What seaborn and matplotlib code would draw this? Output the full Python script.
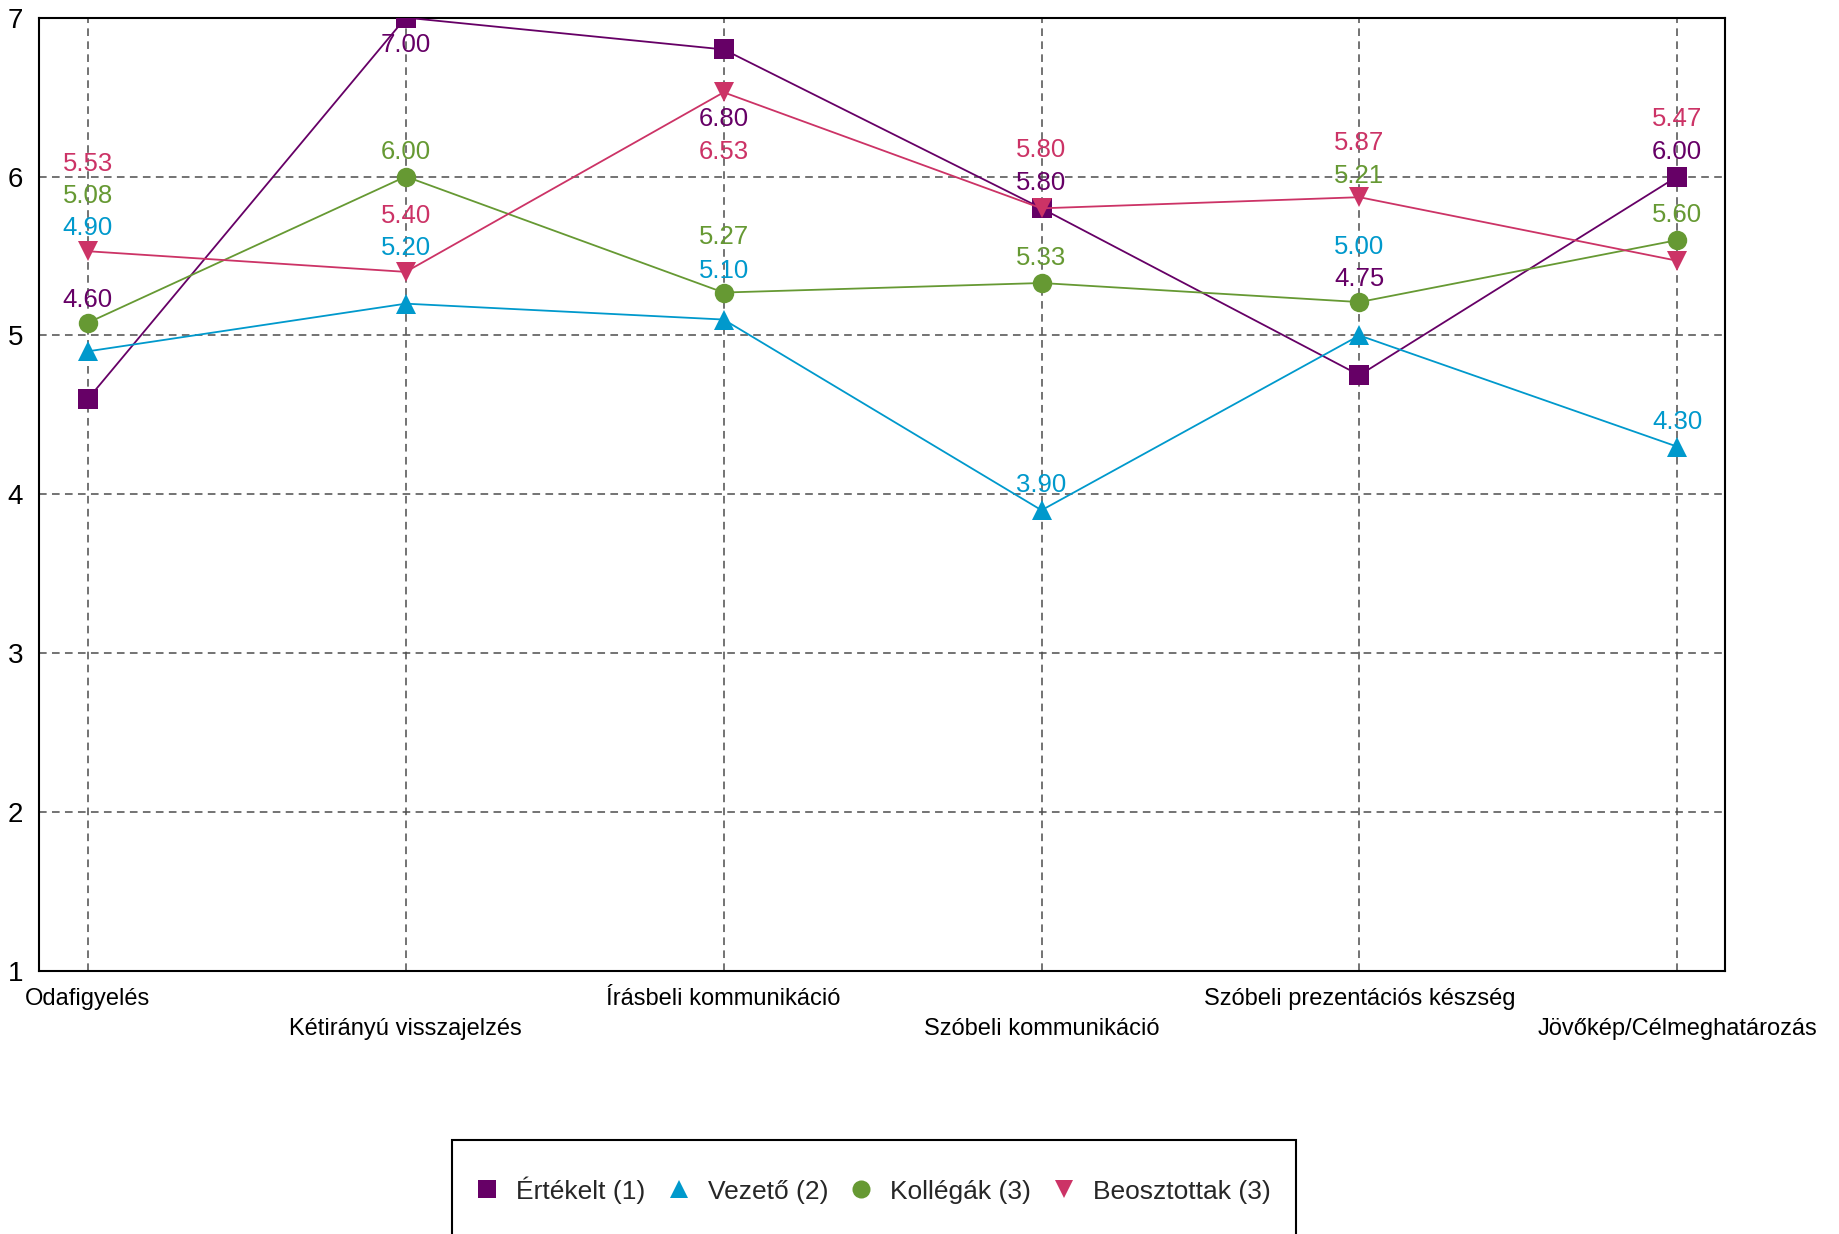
import numpy as np
import pandas as pd
import matplotlib
matplotlib.use("Agg")
import matplotlib.pyplot as plt
from matplotlib.lines import Line2D
from matplotlib.patches import Rectangle
import seaborn as sns

# Competency categories along the x axis
categories = [
    "Odafigyelés",
    "Kétirányú visszajelzés",
    "Írásbeli kommunikáció",
    "Szóbeli kommunikáció",
    "Szóbeli prezentációs készség",
    "Jövőkép/Célmeghatározás",
]

# Average scores by rater group
ertekelt = [4.60, 7.00, 6.80, 5.80, 4.75, 6.00]
vezeto = [4.90, 5.20, 5.10, 3.90, 5.00, 4.30]
kollegak = [5.08, 6.00, 5.27, 5.33, 5.21, 5.60]
beosztottak = [5.53, 5.40, 6.53, 5.80, 5.87, 5.47]

series_names = ["Értékelt (1)", "Vezető (2)", "Kollégák (3)", "Beosztottak (3)"]
series_values = [ertekelt, vezeto, kollegak, beosztottak]

y_ticks = [1, 2, 3, 4, 5, 6, 7]

# Styling per series
palette = {
    "Értékelt (1)": "#660066",
    "Vezető (2)": "#0099CC",
    "Kollégák (3)": "#669933",
    "Beosztottak (3)": "#CC3366",
}
markers = {
    "Értékelt (1)": "s",
    "Vezető (2)": "^",
    "Kollégák (3)": "o",
    "Beosztottak (3)": "v",
}

# Vertical offsets (points) of the value labels relative to their markers
label_offsets = {
    "Értékelt (1)": [71, -20, -50, 18, 69, 18],
    "Vezető (2)": [89, 40, 35, 18, 64, 18],
    "Kollégák (3)": [91, 18, 40, 18, 91, 18],
    "Beosztottak (3)": [63, 40, -43, 42, 39, 102],
}

rows = []
for name, vals in zip(series_names, series_values):
    for i, v in enumerate(vals):
        rows.append({"idx": i, "score": v, "group": name})
df = pd.DataFrame(rows)

sns.set_theme(style="white")
plt.rcParams["font.family"] = ["Liberation Sans", "DejaVu Sans"]

fig = plt.figure(figsize=(18.39, 12.34), dpi=100)
ax = fig.add_axes([0.021, 0.2131, 0.917, 0.7726])

sns.lineplot(
    data=df, x="idx", y="score", hue="group", style="group",
    hue_order=series_names, style_order=series_names,
    palette=palette, markers=markers, dashes=False,
    markersize=14, markeredgewidth=0, linewidth=1.3,
    legend=False, ax=ax, zorder=3,
)

# Value labels
for name, vals in zip(series_names, series_values):
    for i, v in enumerate(vals):
        ax.annotate(
            f"{v:.2f}", xy=(i, v), xytext=(0, label_offsets[name][i]),
            textcoords="offset points", ha="center", va="center",
            fontsize=18.5, color=palette[name], zorder=4,
        )

ax.set_xlim(-0.155, 5.15)
ax.set_ylim(1, 7)
ax.set_xticks(range(len(categories)))
ax.set_xticklabels(categories, fontsize=17, color="black")
ax.set_yticks(y_ticks)
ax.set_yticklabels([str(t) for t in y_ticks], fontsize=20, color="black")
ax.tick_params(axis="both", length=0)
ax.tick_params(axis="y", pad=11)
for i, tick in enumerate(ax.xaxis.get_major_ticks()):
    tick.set_pad(12.5 if i % 2 == 0 else 34)

ax.set_xlabel("")
ax.set_ylabel("")
ax.grid(True, linestyle=(0, (5, 3.5)), color="#4d4d4d", linewidth=1.1)
ax.set_axisbelow(True)
for sp in ax.spines.values():
    sp.set_visible(True)
    sp.set_color("black")
    sp.set_linewidth(1.5)

handles = [
    Line2D([], [], linestyle="none", marker=markers[n], color=palette[n],
           markersize=13, markeredgewidth=0, label=n)
    for n in series_names
]
leg = fig.legend(
    handles=handles, loc="center", bbox_to_anchor=(0.4752, 0.0357),
    ncol=4, fontsize=19, frameon=False, borderpad=0,
    handlelength=0.8, handletextpad=0.7, columnspacing=0.85,
)

# Square frame around the legend, running past the bottom edge of the figure
fig.canvas.draw()
bb = leg.get_window_extent()
W, H = fig.bbox.width, fig.bbox.height
pad_x = 25
top_px = 94
frame = Rectangle(
    ((bb.x0 - pad_x) / W, -30 / H), (bb.width + 2 * pad_x) / W, (top_px + 30) / H,
    transform=fig.transFigure, fill=False, edgecolor="black", linewidth=1.5,
    clip_on=False,
)
fig.patches.append(frame)

fig.savefig("out.png", dpi=100)
